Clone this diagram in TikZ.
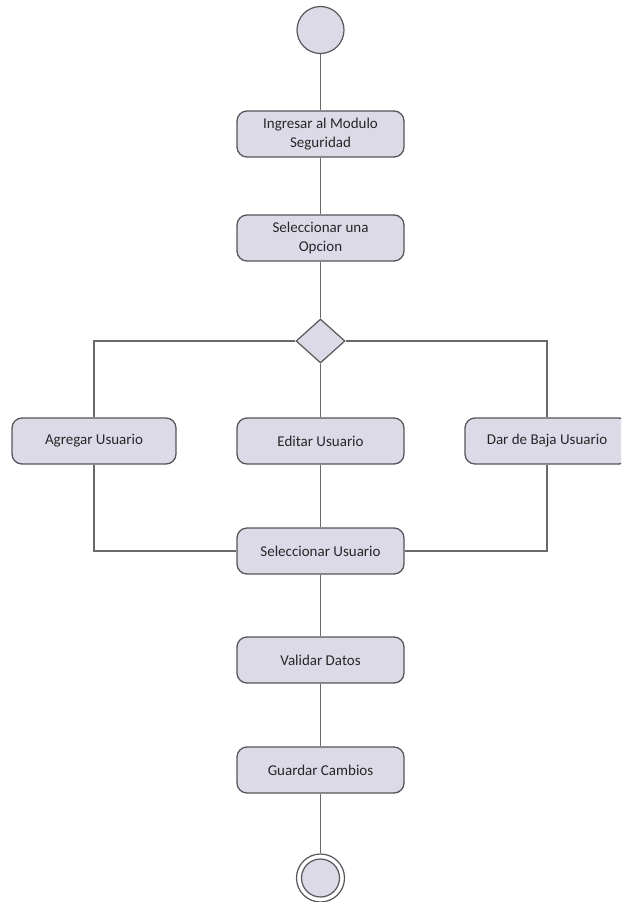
\documentclass[tikz,border=0pt]{standalone}
\usepackage{fontspec}
\setmainfont{Carlito}
\usetikzlibrary{shapes.geometric}
\definecolor{actfill}{RGB}{221,218,232}
\definecolor{actedge}{RGB}{85,85,90}
\definecolor{flow}{RGB}{105,105,105}
\tikzset{
  activity/.style={draw=actedge, fill=actfill, line width=1.3pt, rounded corners=10pt,
    minimum width=167pt, minimum height=46pt, inner sep=2pt, align=center,
    font=\fontsize{15}{19}\selectfont, text=black!85},
  decision/.style={draw=actedge, fill=actfill, line width=1.2pt, diamond, aspect=1.1,
    minimum width=49pt, minimum height=44pt, inner sep=0pt},
  startnode/.style={draw=actedge, fill=actfill, line width=1.2pt, circle, minimum size=47pt, inner sep=0pt},
  endouter/.style={draw=actedge, fill=white, line width=1.2pt, circle, minimum size=48pt, inner sep=0pt},
  endinner/.style={draw=actedge, fill=actfill, line width=1.2pt, circle, minimum size=38pt, inner sep=0pt},
  flowline/.style={draw=flow, line width=1.4pt}
}
\begin{document}
\begin{tikzpicture}[x=1pt, y=-1pt]
  \useasboundingbox (0,0) rectangle (621,902);
  \clip (0,0) rectangle (621,902);

  % activities, decision and terminal nodes
  \node[startnode] (start) at (320.5,30) {};
  \node[activity] (ingresar) at (320.5,134) {Ingresar al Modulo\\Seguridad};
  \node[activity] (opcion) at (320.5,238) {Seleccionar una\\Opcion};
  \node[decision] (dec) at (320.5,341) {};
  \node[activity, minimum width=164pt] (agregar) at (94,441) {Agregar Usuario};
  \node[activity] (editar) at (320.5,441) {Editar Usuario};
  \node[activity, minimum width=164pt] (baja) at (547,441) {Dar de Baja Usuario};
  \node[activity] (selusr) at (320.5,551) {Seleccionar Usuario};
  \node[activity] (validar) at (320.5,660) {Validar Datos};
  \node[activity] (guardar) at (320.5,770) {Guardar Cambios};
  \node[endouter] (fin) at (320.5,878) {};
  \node[endinner] (finin) at (fin) {};

  % control flows
  \path[flowline] (start) -- (ingresar);
  \path[flowline] (ingresar) -- (opcion);
  \path[flowline] (opcion) -- (dec);
  \path[flowline] (dec) -- (editar);
  \path[flowline] (dec.west) -| (agregar.north);
  \path[flowline] (dec.east) -| (baja.north);
  \path[flowline] (editar) -- (selusr);
  \path[flowline] (agregar.south) |- (selusr.west);
  \path[flowline] (baja.south) |- (selusr.east);
  \path[flowline] (selusr) -- (validar);
  \path[flowline] (validar) -- (guardar);
  \path[flowline] (guardar) -- (fin);
\end{tikzpicture}
\end{document}
